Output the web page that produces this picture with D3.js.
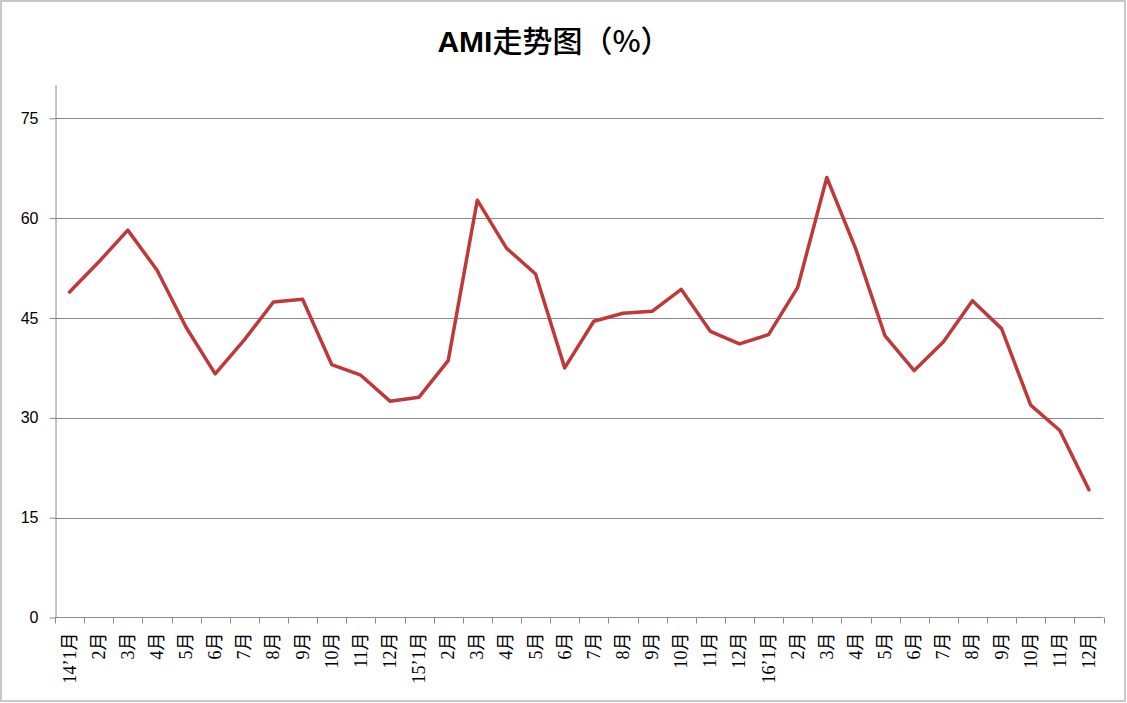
<!DOCTYPE html>
<html>
<head>
<meta charset="utf-8">
<script src="https://cdn.jsdelivr.net/npm/d3@7"></script>
<style>
  html, body { margin: 0; padding: 0; background: #fff; }
  svg { display: block; }
</style>
</head>
<body>
<svg id="chart" width="1127" height="703"></svg>
<script>
// month labels, one per category
const months = [
  '14’1月', '2月', '3月', '4月', '5月', '6月', '7月', '8月', '9月', '10月', '11月', '12月',
  '15’1月', '2月', '3月', '4月', '5月', '6月', '7月', '8月', '9月', '10月', '11月', '12月',
  '16’1月', '2月', '3月', '4月', '5月', '6月', '7月', '8月', '9月', '10月', '11月', '12月'
];

// AMI values (%)
const ami = [
  48.9, 53.4, 58.2, 52.2, 43.6, 36.6, 41.7, 47.4, 47.8, 38.0, 36.4, 32.5,
  33.1, 38.6, 62.7, 55.5, 51.6, 37.5, 44.5, 45.7, 46.0, 49.3, 43.0, 41.1,
  42.5, 49.6, 66.1, 55.3, 42.3, 37.1, 41.4, 47.6, 43.4, 31.9, 28.1, 19.2
];

const yTicks = [0, 15, 30, 45, 60, 75];

const svg = d3.select('#chart');
const width = 1127, height = 703;

// outer border of the chart area
svg.append('rect')
  .attr('x', 1).attr('y', 1)
  .attr('width', width - 3).attr('height', height - 3)
  .attr('fill', '#fff')
  .attr('stroke', '#c8c8c8')
  .attr('stroke-width', 2);

const plotLeft = 55, plotRight = 1103.5, plotTop = 85, plotBottom = 617.5;

const x = d3.scaleBand()
  .domain(d3.range(months.length))
  .range([plotLeft, plotRight]);

const y = d3.scaleLinear()
  .domain([0, 80])
  .range([plotBottom, plotTop]);

// title: latin part bold, CJK part regular
const title = svg.append('text')
  .attr('x', 554)
  .attr('y', 52)
  .attr('text-anchor', 'middle')
  .attr('font-size', 30)
  .attr('fill', '#000');
title.append('tspan')
  .attr('font-family', '"Liberation Sans", sans-serif')
  .attr('font-weight', 'bold')
  .text('AMI');
title.append('tspan')
  .attr('font-family', '"Noto Sans CJK SC", sans-serif')
  .attr('font-weight', 500)
  .text('走势图（%）');

// horizontal gridlines
svg.append('g')
  .selectAll('line')
  .data(yTicks.filter(d => d > 0))
  .join('line')
  .attr('x1', plotLeft).attr('x2', plotRight)
  .attr('y1', d => Math.round(y(d)) + 0.5)
  .attr('y2', d => Math.round(y(d)) + 0.5)
  .attr('stroke', '#8a8a8a')
  .attr('stroke-width', 1);

// y axis
const yAxis = svg.append('g')
  .attr('transform', `translate(${plotLeft + 0.5},0)`)
  .call(d3.axisLeft(y).tickValues(yTicks).tickSize(6).tickPadding(11).tickSizeOuter(0));
yAxis.select('.domain').attr('stroke', '#8a8a8a');
yAxis.selectAll('.tick line').attr('stroke', '#8a8a8a');
yAxis.selectAll('.tick text')
  .attr('font-family', '"Liberation Sans", sans-serif')
  .attr('font-size', 16)
  .attr('fill', '#000');

// x axis: ticks between categories
const xAxis = svg.append('g')
  .attr('transform', `translate(0,${plotBottom})`);
xAxis.append('line')
  .attr('x1', plotLeft).attr('x2', plotRight)
  .attr('stroke', '#8a8a8a');
xAxis.selectAll('.tk')
  .data(d3.range(months.length + 1))
  .join('line')
  .attr('class', 'tk')
  .attr('x1', i => Math.round(plotLeft + i * x.step()) + 0.5)
  .attr('x2', i => Math.round(plotLeft + i * x.step()) + 0.5)
  .attr('y1', 0).attr('y2', 6)
  .attr('stroke', '#8a8a8a');

// rotated month labels
xAxis.selectAll('.lbl')
  .data(months)
  .join('text')
  .attr('class', 'lbl')
  .attr('transform', (d, i) => `translate(${x(i) + x.bandwidth() / 2 + 6},15) rotate(-90)`)
  .attr('text-anchor', 'end')
  .attr('font-family', '"Liberation Serif", "Noto Sans CJK SC", serif')
  .attr('font-size', 18)
  .attr('fill', '#000')
  .text(d => d);

// the line
const line = d3.line()
  .x((d, i) => x(i) + x.bandwidth() / 2)
  .y(d => y(d));

svg.append('path')
  .datum(ami)
  .attr('d', line)
  .attr('fill', 'none')
  .attr('stroke', '#c0393a')
  .attr('stroke-width', 3.5)
  .attr('stroke-linejoin', 'round')
  .attr('stroke-linecap', 'round');
</script>
</body>
</html>
